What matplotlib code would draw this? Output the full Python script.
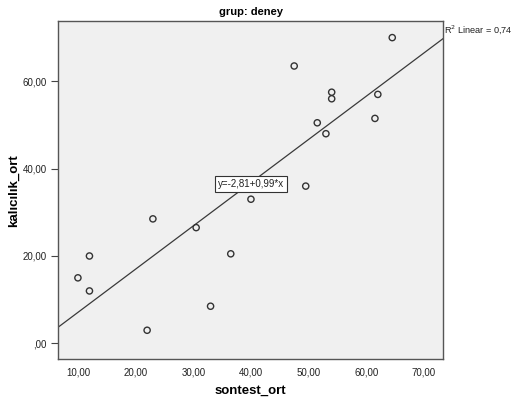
import numpy as np
import matplotlib.pyplot as plt

plt.rcParams['font.family'] = ['Liberation Sans', 'DejaVu Sans']

# grup: deney - sontest_ort vs kalicilik_ort
sontest_ort = [64.5, 47.5, 54.0, 54.0, 62.0, 51.5, 61.5, 53.0, 49.5, 40.0,
               23.0, 30.5, 36.5, 12.0, 10.0, 12.0, 33.0, 22.0]
kalicilik_ort = [70.0, 63.5, 57.5, 56.0, 57.0, 50.5, 51.5, 48.0, 36.0, 33.0,
                 28.5, 26.5, 20.5, 20.0, 15.0, 12.0, 8.5, 3.0]
intercept = -2.81
slope = 0.99
r2_text = "R$^2$ Linear = 0,749"
fit_text = "y=-2,81+0,99*x"

x_ticks = [10, 20, 30, 40, 50, 60, 70]
y_ticks = [0, 20, 40, 60]


def fmt(v):
    s = f"{v:.2f}".replace(".", ",")
    return s[1:] if v == 0 else s


fig = plt.figure(figsize=(5.11, 4.01), dpi=100)
ax = fig.add_axes([0.1141, 0.104, 0.7534, 0.8436])
ax.set_facecolor("#f0f0f0")

xmin, xmax = 6.6, 73.35
ymin, ymax = -3.65, 73.8

# fit line across the full x range
xs = np.array([xmin, xmax])
ax.plot(xs, intercept + slope * xs, color="#3a3a3a", lw=0.9, zorder=2)

ax.scatter(sontest_ort, kalicilik_ort, s=20, facecolors="none",
           edgecolors="#333333", linewidths=1.0, zorder=3)

ax.text(40.0, 36.45, fit_text, fontsize=7, ha="center", va="center",
        color="#222222",
        bbox=dict(boxstyle="square,pad=0.3", fc="white", ec="#333333", lw=0.8))
ax.text(xmax + 0.1, 71.9, r2_text, fontsize=6.6,
        ha="left", va="center", color="#222222", clip_on=False)

ax.set_xlim(xmin, xmax)
ax.set_ylim(ymin, ymax)
ax.set_xticks(x_ticks)
ax.set_xticklabels([fmt(v) for v in x_ticks])
ax.set_yticks(y_ticks)
ax.set_yticklabels([fmt(v) for v in y_ticks])
ax.tick_params(axis="both", direction="out", length=5, width=0.8,
               labelsize=7, color="#444444", labelcolor="#222222")
ax.tick_params(axis="x", length=0, pad=6)
for sp in ax.spines.values():
    sp.set_color("#555555")
    sp.set_linewidth(1.0)

ax.set_title("grup: deney", fontsize=8, fontweight="bold", pad=4)
ax.set_xlabel("sontest_ort", fontsize=9.5, fontweight="bold", labelpad=5)
ax.set_ylabel("kalıcılık_ort", fontsize=9.5, fontweight="bold", labelpad=2)

fig.savefig("out.png", dpi=100, facecolor="white")
